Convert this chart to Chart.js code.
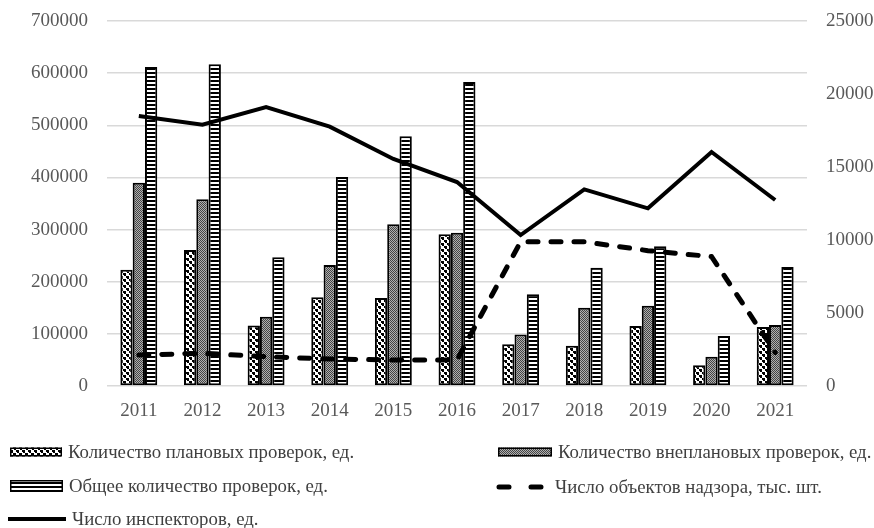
<!DOCTYPE html>
<html lang="ru">
<head>
<meta charset="utf-8">
<script src="https://cdn.jsdelivr.net/npm/chart.js@4"></script>
<style>
  body { margin: 0; background: #fff; }
  #wrap { position: relative; width: 874px; height: 528px; }
  .item {
    position: absolute; height: 22px; display: flex; align-items: center;
    font: 18.8px "Liberation Serif", "Times New Roman", serif; color: #404040; white-space: nowrap;
  }
  .item canvas { margin-right: 6px; }
</style>
</head>
<body>
<div id="wrap">
  <canvas id="chart"></canvas>
  <div id="legend"></div>
</div>
<script>
const years = ["2011", "2012", "2013", "2014", "2015", "2016", "2017", "2018", "2019", "2020", "2021"];

// checks (left axis)
const planned   = [223000, 261000, 116000, 170000, 169000, 291000, 80000, 77000, 115000, 40000, 113000];
const unplanned = [390000, 358000, 133000, 232000, 310000, 294000, 99000, 150000, 154000, 56000, 117000];
const total     = [612000, 617000, 247000, 401000, 479000, 583000, 176000, 227000, 268000, 96000, 228000];

// right axis
const inspectors = [18500, 17900, 19100, 17760, 15550, 13970, 10340, 13470, 12170, 16030, 12740];
const objects    = [2120, 2240, 2010, 1850, 1780, 1780, 9880, 9880, 9270, 8860, 2300];

const leftTicks  = { min: 0, max: 700000, step: 100000 };
const rightTicks = { min: 0, max: 25000, step: 5000 };

const tickFont = { family: "'Liberation Serif', 'Times New Roman', serif", size: 19 };
const tickColor = "#595959";
const plain = v => String(v);

// pattern tiles for the bar fills
function tile(w, h, paint) {
  const c = document.createElement("canvas");
  c.width = w; c.height = h;
  const g = c.getContext("2d");
  paint(g);
  return c;
}

const tiles = {
  dots: tile(6, 6, g => {
    g.fillStyle = "#fff"; g.fillRect(0, 0, 6, 6);
    g.fillStyle = "#000";
    g.fillRect(0, 0, 3, 2);
    g.fillRect(3, 3, 3, 2);
    g.fillRect(1, 2, 2, 1);
    g.fillRect(4, 5, 2, 1);
  }),
  grey: tile(2, 2, g => {
    g.fillStyle = "#b0b0b0"; g.fillRect(0, 0, 2, 2);
    g.fillStyle = "#444";
    g.fillRect(0, 0, 1, 1);
    g.fillRect(1, 1, 1, 1);
  }),
  stripes: tile(4, 4, g => {
    g.fillStyle = "#fff"; g.fillRect(0, 0, 4, 4);
    g.fillStyle = "#000"; g.fillRect(0, 0, 4, 2);
  })
};

const $canvas = document.querySelector("#chart");
const ctx = $canvas.getContext("2d");
const pat = name => ctx.createPattern(tiles[name], "repeat");

// keep the plot top fixed whatever the tick label height is
function fitY(width) {
  return function (s) {
    s.width = width;
    s.paddingTop = 21;
    s.paddingBottom = 0;
  };
}

const chart = new Chart(ctx, {
  data: {
    labels: years,
    datasets: [
      {
        type: "line",
        label: "Число инспекторов, ед.",
        data: inspectors,
        yAxisID: "y1",
        borderColor: "#000",
        borderWidth: 4,
        pointRadius: 0,
        tension: 0,
        order: 0
      },
      {
        type: "line",
        label: "Число объектов надзора, тыс. шт.",
        data: objects,
        yAxisID: "y1",
        borderColor: "#000",
        borderWidth: 5,
        borderDash: [10, 13],
        borderCapStyle: "round",
        pointRadius: 0,
        tension: 0,
        order: 0
      },
      {
        type: "bar",
        label: "Количество плановых проверок, ед.",
        data: planned,
        backgroundColor: pat("dots"),
        borderColor: "#000",
        borderWidth: 2,
        borderSkipped: false,
        order: 1
      },
      {
        type: "bar",
        label: "Количество внеплановых проверок, ед.",
        data: unplanned,
        backgroundColor: pat("grey"),
        borderColor: "#000",
        borderWidth: 2,
        borderSkipped: false,
        order: 1
      },
      {
        type: "bar",
        label: "Общее количество проверок, ед.",
        data: total,
        backgroundColor: pat("stripes"),
        borderColor: "#000",
        borderWidth: 2,
        borderSkipped: false,
        order: 1
      }
    ]
  },
  options: {
    responsive: true,
    maintainAspectRatio: false,
    animation: false,
    layout: { padding: 0 },
    datasets: { bar: { categoryPercentage: 0.58, barPercentage: 1 } },
    plugins: { legend: { display: false }, tooltip: { enabled: false } },
    scales: {
      x: {
        grid: { display: false, drawTicks: false },
        border: { display: false },
        ticks: { color: tickColor, font: tickFont, padding: 14 },
        afterFit(s) { s.height = 142; }
      },
      y: {
        position: "left",
        min: leftTicks.min,
        max: leftTicks.max,
        ticks: { stepSize: leftTicks.step, color: tickColor, font: tickFont, padding: 19, callback: plain },
        grid: { color: "#d9d9d9", lineWidth: 1.5, drawTicks: false },
        border: { display: false },
        afterFit: fitY(107)
      },
      y1: {
        position: "right",
        min: rightTicks.min,
        max: rightTicks.max,
        ticks: { stepSize: rightTicks.step, color: tickColor, font: tickFont, padding: 19, callback: plain },
        grid: { display: false, drawTicks: false },
        border: { display: false },
        afterFit: fitY(67)
      }
    }
  }
});

// legend in two columns under the plot
const legendItems = [
  { ds: 2, kind: "box",  x: 10,  y: 452, w: 52, h: 9 },
  { ds: 3, kind: "box",  x: 498, y: 452, w: 54, h: 9 },
  { ds: 4, kind: "box",  x: 10,  y: 486, w: 53, h: 12 },
  { ds: 1, kind: "dash", x: 495, y: 487, w: 54 },
  { ds: 0, kind: "line", x: 8,   y: 519, w: 58 }
];

const $legend = document.querySelector("#legend");
legendItems.forEach(function (it) {
  const ds = chart.data.datasets[it.ds];
  const div = document.createElement("div");
  div.className = "item";
  div.style.left = it.x + "px";
  div.style.top = (it.y - 11) + "px";

  const sw = document.createElement("canvas");
  sw.width = it.w;
  sw.height = 16;
  const g = sw.getContext("2d");
  if (it.kind === "box") {
    const top = (16 - it.h) / 2;
    g.fillStyle = g.createPattern(tiles[["dots", "grey", "stripes"][it.ds - 2]], "repeat");
    g.fillRect(0, top, it.w, it.h);
    g.strokeStyle = "#000";
    g.lineWidth = 1.5;
    g.strokeRect(0.75, top + 0.75, it.w - 1.5, it.h - 1.5);
  } else {
    g.strokeStyle = "#000";
    g.lineWidth = ds.borderWidth;
    g.lineCap = it.kind === "dash" ? "round" : "butt";
    if (it.kind === "dash") g.setLineDash([10, 22]);
    g.beginPath();
    g.moveTo(it.kind === "dash" ? 4 : 0, 8);
    g.lineTo(it.w, 8);
    g.stroke();
  }
  div.appendChild(sw);

  const span = document.createElement("span");
  span.textContent = ds.label;
  div.appendChild(span);
  $legend.appendChild(div);
});
</script>
</body>
</html>
